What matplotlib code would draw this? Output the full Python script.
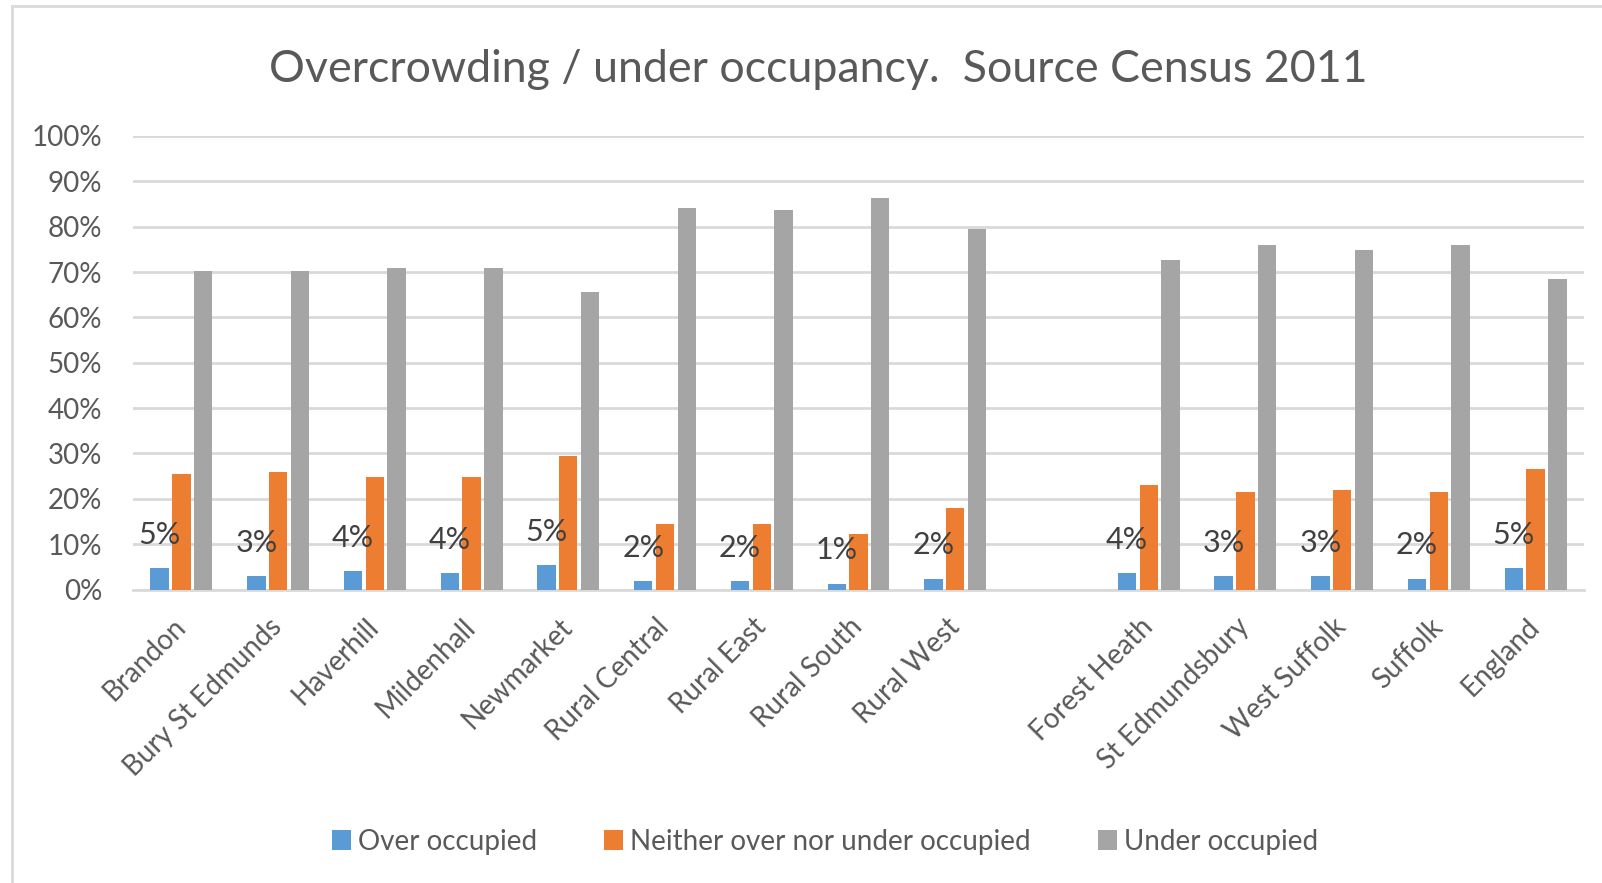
import numpy as np
import matplotlib
matplotlib.use("Agg")
import matplotlib.pyplot as plt
from matplotlib.lines import Line2D
from matplotlib.patches import Patch

# Categories (gap between the two groups)
group1 = ["Brandon", "Bury St Edmunds", "Haverhill", "Mildenhall", "Newmarket",
          "Rural Central", "Rural East", "Rural South", "Rural West"]
group2 = ["Forest Heath", "St Edmundsbury", "West Suffolk", "Suffolk", "England"]

# shares of households
over = [0.047, 0.030, 0.041, 0.036, 0.053, 0.018, 0.018, 0.013, 0.024,
        0.036, 0.030, 0.030, 0.024, 0.047]
neither = [0.254, 0.260, 0.249, 0.249, 0.295, 0.145, 0.145, 0.122, 0.180,
           0.231, 0.214, 0.220, 0.214, 0.266]
under = [0.703, 0.703, 0.709, 0.709, 0.657, 0.842, 0.836, 0.864, 0.795,
         0.726, 0.760, 0.749, 0.760, 0.685]

series_names = ["Over occupied", "Neither over nor under occupied", "Under occupied"]
colors = ["#5B9BD5", "#ED7D31", "#A5A5A5"]
text_col = "#595959"

plt.rcParams['font.family'] = ['Lato', 'DejaVu Sans']

categories = group1 + group2
x = np.r_[np.arange(len(group1)), np.arange(len(group2)) + len(group1) + 1]

fig = plt.figure(figsize=(16.02, 8.83), dpi=100)
ax = fig.add_axes([133 / 1602, 293.5 / 883, (1584 - 133) / 1602, (747 - 293.5) / 883])

w = 0.19
off = 0.225
for i, (vals, c, name) in enumerate(zip([over, neither, under], colors, series_names)):
    ax.bar(x + (i - 1) * off, vals, width=w, color=c, label=name, zorder=3)

# data labels on the over occupied bars
for xi, v in zip(x, over):
    ax.annotate(f"{v:.0%}", (xi - off, v), xytext=(0, 24), textcoords="offset points",
                ha="center", va="center", fontsize=22, color="#404040", zorder=4)

ax.set_xlim(-0.5, len(categories) + 0.5)
ax.set_ylim(0, 1)
ax.set_yticks(np.arange(0, 1.01, 0.1))
ax.set_yticklabels([f"{t}%" for t in range(0, 101, 10)], fontsize=20, color=text_col)
ax.grid(axis="y", color="#D9D9D9", linewidth=2, zorder=0)
ax.tick_params(axis="both", length=0)
ax.tick_params(axis="y", pad=22)
for s in ["top", "right", "left"]:
    ax.spines[s].set_visible(False)
ax.spines["bottom"].set_color("#D9D9D9")
ax.spines["bottom"].set_linewidth(2)

ax.set_xticks(x)
ax.set_xticklabels(categories, rotation=45, ha="right", va="center",
                   rotation_mode="anchor", fontsize=20, color=text_col)
ax.tick_params(axis="x", pad=24)

fig.text(818 / 1602, 1 - 69 / 883, "Overcrowding / under occupancy.  Source Census 2011",
         ha="center", va="center", fontsize=32.2, color=text_col)

handles = [Patch(facecolor=c) for c in colors]
fig.legend(handles, series_names, loc="center", bbox_to_anchor=(825 / 1602, 1 - 842 / 883),
           ncol=3, frameon=False, fontsize=20, labelcolor=text_col,
           handlelength=0.7, handleheight=0.75, handletextpad=0.25, columnspacing=2.4)

# chart border (left and top visible)
fig.add_artist(Line2D([12 / 1602, 12 / 1602], [0, 1 - 6 / 883], color="#D9D9D9", lw=2))
fig.add_artist(Line2D([12 / 1602, 1], [1 - 6 / 883, 1 - 6 / 883], color="#D9D9D9", lw=2))

fig.savefig("out.png", dpi=100)
